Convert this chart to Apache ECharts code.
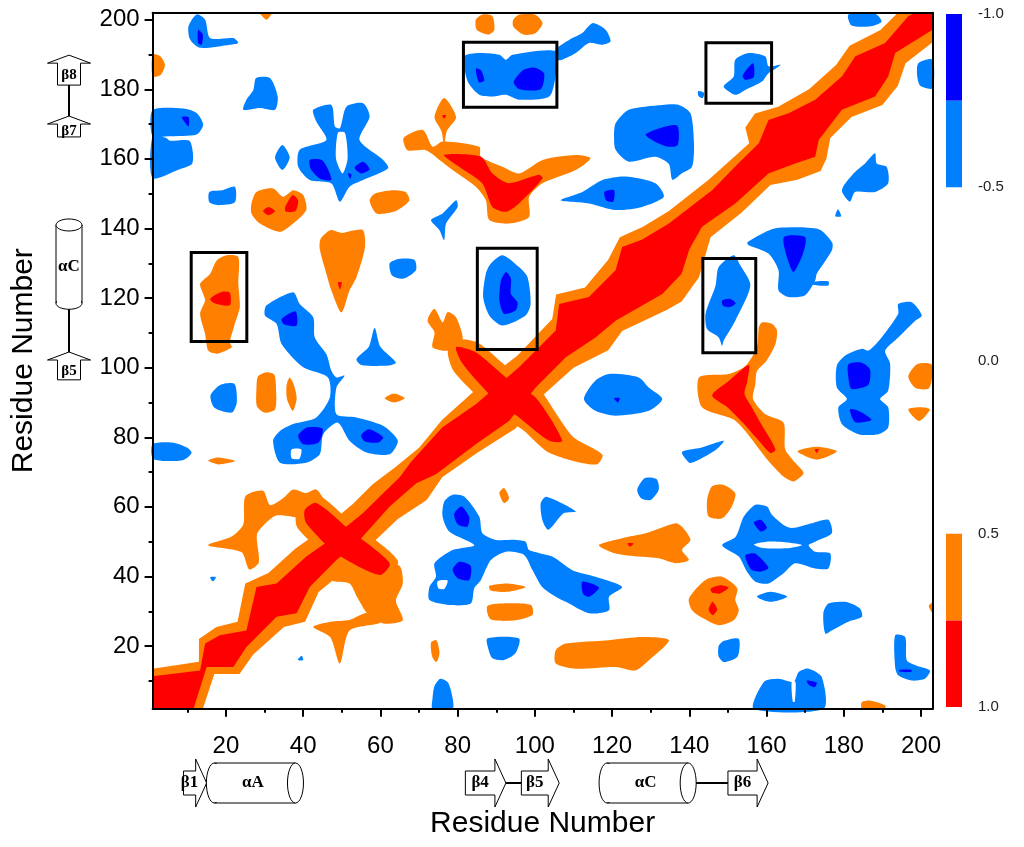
<!DOCTYPE html>
<html>
<head>
<meta charset="utf-8">
<script src="https://cdn.jsdelivr.net/npm/echarts/dist/echarts.min.js"></script>
<style>
  html, body { margin: 0; padding: 0; background: #fff; }
  #main { width: 1024px; height: 847px; }
</style>
</head>
<body>
<div id="main"></div>
<script>
// residue ticks
const majorTicks = [20, 40, 60, 80, 100, 120, 140, 160, 180, 200];
const minorTicks = [10, 30, 50, 70, 90, 110, 130, 150, 170, 190];

// contour regions, [residue i, residue j] vertices
const orangeRegions = [
  [[0,13.5],[13,15.5],[13,22],[17.5,25.5],[23,27],[25,38],[31,41],[38,48],[45,53.5],[53,61],[58,66.5],[64,71.5],[70,77],[76,85],[83,92],[88,97],[95.5,103.5],[104.5,114],[105.5,121],[113,123],[119,131],[122,137.5],[128,140.5],[134.7,145],[145,154],[152,161],[155.5,164.5],[154.5,169],[157,173],[163,175],[171,180],[178,187],[181.5,192.5],[189.5,197],[194,203],[204,203],[204,193.5],[196,187.5],[194,181],[190,175.5],[182,172],[176.5,166],[175.5,160],[174,156.5],[168,154],[161,152.5],[153.5,144.5],[145.5,137.5],[142.5,126],[138,119],[134,116.5],[122.6,110.5],[119,105],[110,100],[102,92],[95,82.5],[85,75.5],[76,68.5],[72,62],[64.5,56.5],[56,47.5],[50,41],[44,35.5],[40.5,27],[35,25.5],[27,17.5],[23.5,12],[17,12],[14,0],[0,0]],
  [[38.5,59.5],[43.5,63.5],[52,56],[64.5,44.5],[60.5,38],[48.5,44],[38.5,54]],
  [[15.4,49],[21.5,51.5],[24.5,55],[25,63],[29.6,64.6],[31.4,60.5],[34.8,62.5],[37.4,65],[40.8,64],[43.4,65],[46,61],[48,57],[44,55.5],[38,57],[33,57.5],[30,55],[28,52],[28.5,44],[26,42],[24,47]],
  [[47,44],[56.4,42],[60.7,44],[65,43],[65.8,38],[64,33],[65.8,27.4],[60.7,26.5],[56.5,29.5],[54,34],[52,38],[47,39]],
  [[42.6,25.5],[47,27],[52,27.5],[56.5,29.5],[60,26.8],[52,24.5],[49.5,15],[47,22.6]],
  [[77.5,105],[81,108],[85.5,107],[93,100],[101,94],[106,86],[110,80],[117.5,75],[116,72.2],[109,73.5],[103,76],[97,82],[88,89],[79,99]],
  [[73.5,105.9],[74,110.2],[72.2,113.5],[74,116.9],[76.1,113],[77.4,116],[79.6,114.5],[81.3,107.8],[77.8,104.9]],
  [[66,166],[71,168.3],[73.5,163.5],[76.1,165],[85.6,163.5],[86,160.6],[91.6,157.7],[95.9,155.8],[102,159.7],[110.6,161.1],[114.4,160.2],[110.6,156.8],[102,153],[98.5,149.1],[98.5,143.3],[93.3,141.4],[88.2,142.4],[87.3,148.1],[84.7,152],[78.7,156.8],[75.3,159.7],[71.8,162.5],[67,162.5]],
  [[76.5,177.5],[79.6,172],[77.2,168],[76.5,164],[75.8,168],[74,172]],
  [[28.8,203],[31.8,203],[30.5,200]],
  [[0,190],[3,189.5],[4.2,187],[3,184],[0,183.7]],
  [[84.7,200],[86.5,201.5],[89,201],[89.5,197],[88,195.7],[85,197]],
  [[94.4,200],[96,201.5],[100,201.5],[102,199],[100,196],[97,195.7],[94.4,198]],
  [[26.6,147.2],[27.9,150.5],[32.2,151.5],[34.8,149.1],[37.4,151],[40,149.6],[40.8,145.3],[37.4,141.4],[34,139],[28.8,141.4],[26.6,144.3]],
  [[57.2,148],[58.5,150],[63,151],[66.5,150.5],[67.5,148],[64,145],[59,144.3]],
  [[44.5,137],[47,139.5],[50,138.7],[52,139.2],[55.5,139.5],[56,134.5],[53.8,126],[52,122.2],[49.9,115.9],[47.3,122.2],[46,127],[44.3,134]],
  [[20.2,132.3],[23.2,131.8],[23.2,124.1],[23.6,117.4],[22.3,112.6],[21,107.3],[21.5,105.9],[17.6,104],[15.4,104.9],[14.6,109.7],[13.3,115.5],[14.6,119.3],[14.1,121.2],[13.3,124.1],[15.9,127],[17.6,130.8]],
  [[28.3,97.5],[30.5,98.7],[32.5,98],[33,93],[32.7,88],[30,87.1],[28,89],[27.9,94]],
  [[36.5,97.2],[37.6,95],[38.3,91],[37.3,87.6],[35.8,91],[35.7,95]],
  [[61.1,91.2],[63.5,92.6],[66.3,91.2],[63.5,90]],
  [[15.4,73.3],[18,74.2],[22.3,73.2],[18,72.2]],
  [[90.8,64],[92,65.4],[93.3,62.5],[92,61.1]],
  [[116.6,49],[122.6,51],[128.7,52.4],[136.4,55.3],[138.1,54.3],[140.3,50.5],[138.1,47.6],[139.9,44.7],[136.4,43.8],[132.1,45.2],[126.9,45.7],[120.9,46.6]],
  [[88.2,37.3],[93,38],[97.6,37],[93,35.6],[88.5,36]],
  [[87.7,31.5],[93,32.3],[99,31.8],[99.4,29],[95,27.4],[88.5,27.7]],
  [[105.4,18.8],[108,20.7],[119.2,21.7],[127.8,22.6],[134.7,21.7],[129.5,15.9],[126.1,13],[120.9,14],[110.6,13.5],[105.4,15]],
  [[73.1,21],[74.5,21.7],[75.3,18],[74.5,15.4],[73.4,17]],
  [[158.8,113],[161.4,112.6],[162.7,110.7],[162.3,106.8],[160,102],[157.5,99],[157.1,95.3],[156.5,91],[159.7,86.6],[164.4,84.2],[164.8,76.6],[167,73.2],[169.6,69.7],[167,67.3],[164.4,68.7],[160.5,73.2],[152,84.7],[143.3,88.6],[142.5,97.2],[150.2,98.2],[154.5,100.5],[157.5,105.9],[158,111.6]],
  [[168,76],[173,77.3],[178.2,76],[173,73.6]],
  [[196.7,97.5],[199,101],[202.7,101],[204,98],[202,94],[198.5,94.2]],
  [[196.7,88],[200,88.6],[202.3,88],[199.5,84.7]],
  [[145.9,65.9],[148.9,66.3],[151.9,63.9],[151,60.1],[148.5,56.7],[145,57.2],[144.6,62]],
  [[139.9,33.7],[144.2,39],[148.5,39.9],[152.4,36.6],[151.9,33.2],[152.8,30.3],[151.5,27.4],[147.6,26],[143.7,27.9],[140.7,30.3]],
  [[184.7,3.9],[187,4.3],[190.7,3],[190.7,0],[184.7,0]],
  [[202,31.5],[204,32.5],[204,29.5]]
];

const redRegions = [
  [[0,11.3],[13.3,13],[14.6,20.7],[18.4,23.1],[25.3,24.5],[27.9,37],[33.1,38],[40.8,45.7],[46.9,50.5],[55.5,58.2],[60.7,63.9],[65,68.5],[68,73],[76,82.8],[84.7,89.5],[95.9,100.1],[105.4,110.7],[106.3,118.3],[114,120.3],[120.9,128],[122.6,134.7],[127.8,136.8],[134.7,141.4],[145.9,151],[151.9,157.8],[158,164.5],[160.5,171.2],[165.7,173.1],[172.6,177],[179.5,183.7],[183,189.5],[190.7,193.3],[196.7,201],[198.4,203],[204,203],[204,197.1],[193.3,190.4],[191.5,183.7],[188.1,177.9],[179.5,174.1],[173.5,165.4],[172.6,160.6],[167.4,158.7],[160.5,155.8],[151.9,147.2],[143.3,140.5],[140,134],[138,127],[133,121.2],[120.9,113.5],[115.7,108.7],[108,103],[100.2,94.3],[93.3,84.7],[84.7,78],[74.4,69.4],[69.3,66.8],[62.4,60.1],[53.8,49.5],[48.6,44.7],[41.7,37],[38.3,29.4],[33.1,28.4],[25.3,19.7],[21.9,14],[15,14],[11.6,0],[0,0]],
  [[40.4,59.1],[43.4,61.1],[52,53.4],[62.4,43.8],[59.8,40.4],[48.6,46.6],[40.8,55.3]],
  [[79.6,105.9],[84.7,104.4],[92.5,97.2],[100.2,91.4],[107.1,79],[103.7,79],[95.9,85.7],[89,91.5],[81.3,101.1]],
  [[76.5,161.1],[86,160.6],[89,155.8],[93.3,153],[101,155.4],[102,154.4],[95.9,147.2],[92.5,144.8],[89,146.2],[86.4,152.9],[80.4,157.7]],
  [[76,172.5],[77,172.5],[76.5,171.5]],
  [[29.6,145],[31,146.2],[32.7,145],[31,143.8]],
  [[35.3,146],[37.3,149.6],[38.7,148],[38,145],[35.5,144.8]],
  [[49,124.5],[50,124.5],[49.5,122.5]],
  [[15.9,119.8],[19,121.8],[21,121.5],[21,117.9],[17,118.5]],
  [[124,49.5],[125.5,49.5],[124.7,48.6]],
  [[172.5,76.5],[173.5,76.5],[173,75.5]],
  [[145.9,92],[150,96],[155.4,100.8],[155,96],[154.3,92.4],[156.5,88],[158.5,84],[162.3,76.5],[161,75.5],[158,79],[154,84],[150,88.5]],
  [[145.5,36.5],[148,37.5],[150.2,36.8],[148,35.1],[146,35.3]],
  [[145,30.5],[146,32.7],[147.2,30.5],[146,28.9]]
];

const lightBlueRegions = [
  [[12.4,201.5],[14.6,200],[15.9,194.7],[21.9,194.7],[23.2,193.3],[21,192.8],[13.3,191.9],[10.7,194.3],[10.3,198.1]],
  [[27.8,183.2],[31.4,183.2],[33.4,177.9],[32.7,174.1],[28.8,174.6],[24.5,174.1],[25.3,177],[27.1,179.8]],
  [[0,174],[9,174.5],[12.4,173.2],[14.1,169.8],[12.4,167],[5,166.5],[0,166.5]],
  [[0,166.5],[4.5,166],[5.5,165.2],[10.5,165.2],[11.4,162],[11.2,158.5],[8,157],[0,154.5]],
  [[34.6,164],[36.5,160.4],[34.6,156.8],[32.7,160.4]],
  [[42.6,174.1],[47.3,175.5],[48.2,169.3],[49.5,168.8],[51.2,175],[55.5,176],[57.2,172.2],[54.6,165.4],[60.7,159.7],[62,157.3],[55.5,153.9],[52,152],[49.5,147.7],[47.3,152.9],[41.7,153.9],[38.7,157.7],[39.1,162.6],[46,165.4],[43.4,170.7]],
  [[15.7,150.5],[19,151],[22.3,152],[22.3,147.5],[18,146.7],[15.7,147.5]],
  [[81.7,189.4],[85.6,190.4],[90.8,189.9],[92.5,188.5],[94.2,189.9],[105.4,190.9],[105.4,184.2],[103.7,177.9],[95.9,177],[92.5,178.4],[89,177.9],[85.6,178.4],[82.6,182.2]],
  [[105.4,188.5],[105.4,191.4],[109.7,194.7],[112.3,196.2],[114.9,199],[118.3,197.1],[119.6,193.8],[117.5,192.8],[114,193.3],[110.6,190.4],[107.1,188.5]],
  [[120.9,170.2],[124.3,174.1],[133,175.5],[137.3,175.5],[140.3,173.1],[141.2,164.5],[140.7,157.7],[138,155.8],[135.6,154],[134.7,158.5],[131.2,160.6],[124.3,159.2],[120.9,162.6],[120.5,166.4]],
  [[106.7,148.1],[112.3,150.5],[117.5,153.9],[123.5,154.9],[131.2,153],[133.4,149.1],[127.8,146.2],[120.9,145.3],[114,147.2]],
  [[79.6,148.1],[80,146.2],[77,141.4],[76.5,136.6],[75.3,139.5],[73.1,142.4],[76.1,144.3]],
  [[181.2,201.5],[188,201.8],[189.8,199.5],[187,198.1],[182,198.3]],
  [[151.9,188.5],[155.4,190.4],[159.7,189.4],[160.5,186.6],[163.6,187],[160.5,184.6],[158.8,182.2],[154.5,179.8],[151.9,178.4],[148.9,180.8],[151.5,183.7]],
  [[142.3,179.5],[143.8,179],[143.5,177.5],[142.4,178]],
  [[199.3,187.5],[204,188.5],[204,180.3],[199.8,181],[199,184]],
  [[188.1,161.6],[188.5,158.7],[191.1,157.7],[191.5,153],[188.1,150.5],[182.9,150.5],[181.6,147.7],[179.5,151],[182.5,155.8],[185.5,158.7]],
  [[177.8,143.5],[179.3,143.5],[178.5,145.5]],
  [[155,136],[159.7,139],[163.1,140.2],[173.5,139.8],[177,136],[176.9,133.7],[173,127],[172.6,125.1],[170,120.8],[165.7,120.3],[163.1,122.2],[163.1,128],[160.5,132.8],[155.4,135.2]],
  [[172,124.6],[176,124.8],[176,123.6],[172,123.8]],
  [[62.4,130],[65,131.3],[68.8,131],[69.2,128],[66,125.6],[63,126.5]],
  [[30.5,117.9],[37.4,121.7],[39.1,118.3],[42.6,114.5],[43,108.7],[46,103.9],[47.3,99.1],[48.6,97.2],[50.7,97.7],[48.6,94.3],[48.6,86.6],[53.8,85.7],[60.7,83.3],[64.5,79],[62.4,75.1],[56.4,75.6],[52,79],[49,84.2],[45.2,80.9],[44.3,75.1],[40.8,72.7],[34,72.7],[32.2,79],[34,81.8],[37.4,83.8],[43.4,85.7],[46.9,91.4],[46.4,97.2],[40,100.1],[34.4,106.8],[33.1,112.6],[30.1,115]],
  [[58.5,111.5],[60,106],[64,101.5],[62,100.6],[55,100.8],[53.8,102.5],[57,106]],
  [[16,92],[18.5,95],[22.2,95.3],[22.8,90],[21.5,87.1],[17,88.5]],
  [[0,78],[6,78.5],[10,77],[11.1,75.5],[9,73.5],[4,73.2],[0,74]],
  [[91.6,132.3],[95.9,128.9],[98.1,126],[98.9,118.3],[97.6,115],[91.6,112.1],[88.2,115],[86.6,120.3],[87.3,127],[88.6,129.9]],
  [[112.7,91],[115.7,96.3],[119.2,98.2],[126.9,97.2],[129.5,94.3],[133,91],[129.5,87.6],[120.9,86.2],[115.7,87.6]],
  [[151.5,132.3],[153.2,129.4],[155.8,123.6],[151.9,113.5],[148.9,107.8],[148.5,106.3],[147.6,108.7],[144.6,111.1],[144.2,115.5],[146.8,123.6],[147.6,128.9]],
  [[194.1,118.3],[197.6,118.8],[200.2,115],[198.5,113.5],[194.1,108.7],[190.7,104.9],[192,101.1],[191.5,93.4],[189.4,91],[191.5,88.6],[191.5,82.8],[189,80.9],[183.8,80.9],[179.5,83.8],[178.6,88.6],[180.8,91],[178.2,94.3],[178.2,100.6],[180.4,103.5],[184.7,105.4],[186.4,104.9],[189.8,108.7],[194.1,115.5]],
  [[138.1,75.8],[143,77],[148.9,79],[147,76.5],[141.5,73],[140,72.7]],
  [[15.9,39.8],[17.4,39.8],[16.6,38.6]],
  [[38.6,16],[40,16],[39.6,17.2]],
  [[78.7,63.5],[81.7,63],[85.6,57.2],[86.4,52.4],[89.9,50.5],[95.1,50.5],[97.6,50],[98.5,47.6],[104.5,45.7],[109.7,41.8],[115.7,39.9],[122.6,37],[119.2,34.2],[119.2,30.3],[114,29.4],[108,32.7],[105.4,34.2],[101.9,37],[99.4,41.8],[97.2,46.2],[92.5,47.1],[88.6,44.7],[86,38.9],[84.3,36.6],[83.4,32.2],[77.8,31.8],[72.7,33.2],[72.7,37],[74.4,39.9],[74,43.8],[78.7,47.6],[84.3,49],[77.8,52.9],[76.1,57.2],[76.5,61.5]],
  [[101.5,61],[103,62.9],[110.6,58.7],[107.5,58.2],[103.5,53.4],[102,56]],
  [[126.5,65],[128.5,68.3],[131.5,68],[132.1,65],[130,62],[127.5,62.5]],
  [[87.7,22.2],[95.9,22.2],[95,18],[92,16],[89,16.5],[88,19]],
  [[75.5,10.6],[77.5,9.5],[78.7,5],[78.7,0],[73.5,0],[73.5,5],[74,8.5]],
  [[148.5,49],[152,51.4],[154.1,57.2],[157.1,60.6],[160.1,60.1],[161.4,57.7],[164.4,54.8],[166.6,53.9],[171.7,55.3],[176,56.3],[176.9,52.4],[172.6,50],[170.9,49],[172.6,47.1],[176.5,46.6],[176,42.3],[172.6,42.3],[167.4,43.8],[164.4,40.9],[160.5,38],[157.1,38.5],[154.9,41.4],[152.8,45.7]],
  [[157.5,34.2],[161,35.6],[165.3,34.2],[161,32.7]],
  [[176,32.2],[180.4,32.7],[184.2,30.8],[184.7,28.4],[181.2,27],[176.9,24.5],[175.2,23.6],[174.7,29.4]],
  [[147.6,20],[149,21.5],[152.8,22.1],[152.5,17],[149,15.4],[147.6,17]],
  [[193.3,23.1],[195.9,22.6],[196.3,15.9],[198.5,14.5],[202.3,13],[201,10.6],[197.6,10.1],[194.1,11.6],[193.3,14]],
  [[156.7,0],[159.3,9.7],[163.1,10.6],[167,9.7],[168.3,12.5],[170.9,13.5],[174.3,11.1],[174.8,0]]
];

// white gaps inside the blue patches
const holeRegions = [
  [[49,167.5],[50.8,167.5],[51.5,160],[50.2,155.8],[48.5,160]],
  [[37,76.5],[39.5,76.5],[39,73.8],[37,74]],
  [[74.8,38.6],[77.4,38.8],[76.5,36.4],[75,36.6]],
  [[156.7,49.2],[160,50],[166,49.7],[169.2,49],[165,48.1],[159,48.2]],
  [[166.5,9.7],[167.5,9.7],[167.3,4],[166.8,4]]
];

const darkBlueRegions = [
  [[12.8,197.1],[14,195.7],[13.7,192.8],[12.8,193.3]],
  [[8.5,172],[10.3,172],[10.3,169.3]],
  [[41.7,159.7],[45,159.5],[47.3,154],[44.5,154.2],[42,157]],
  [[53.3,157.5],[55.5,159.2],[57.2,157],[55,155.8]],
  [[51.6,155.8],[52.5,155.5],[52.2,154.3]],
  [[84.7,186],[86,185.5],[86.9,182.5],[85.5,182]],
  [[94.5,182],[97,185.5],[100,186.2],[102.4,184.5],[101.5,180],[96,180]],
  [[128.7,167],[133,169],[136.9,169.5],[137,164],[134.5,163.5],[131,165]],
  [[118,150.5],[120.5,151],[120.3,147.7],[118.5,148]],
  [[153.8,184],[156.5,187.5],[156.7,183.5],[154.5,182.7]],
  [[164.5,137.5],[170,137.5],[169.5,133],[167,127.5],[165.5,131]],
  [[34.4,114],[38,116.2],[38.3,112.1],[35,112.5]],
  [[38.7,80.5],[41,82.8],[45,82.5],[44,78.5],[40,78]],
  [[55,80.5],[57,82.3],[60.7,80],[59.5,78.5],[56,78.8]],
  [[92.5,127.5],[93.8,125.6],[93.8,121.2],[95.5,118.8],[95,116.4],[92,115.5],[90.8,119.3],[91.2,125]],
  [[120.5,91.2],[122,91.2],[121.5,90]],
  [[148.5,119.3],[150.5,119.8],[152,118.5],[150.5,117.4],[148.7,117.8]],
  [[181.2,101],[184.5,101.5],[186.8,99.5],[186.3,95],[182,93.9],[181.2,97]],
  [[181.6,88],[184,87.5],[187.2,85],[183,84.3]],
  [[79.1,58],[81,60.1],[83,57],[82.5,54.3],[80,55]],
  [[78.7,42],[80.5,44.2],[83.4,43],[83,39],[80,39.5]],
  [[112.3,38.5],[116.6,36.8],[114,34.1],[112.5,35]],
  [[156.7,55.5],[158.5,56.3],[160.1,54],[158.5,52.9]],
  [[154.5,46],[157,46.6],[160.5,42.5],[158.5,41.4],[156,42]],
  [[194.5,13.2],[197.5,13.2],[197.5,12.6],[194.5,12.6]],
  [[170.4,10.1],[173,9.5],[172.5,8.2],[171,8.8]]
];

// highlighted boxes [x1, y1, x2, y2]
const boxes = [
  [81.5, 174.8, 105.7, 193.5],
  [144.3, 176, 161.3, 193.4],
  [11, 107.5, 25.4, 133.1],
  [85.1, 105.2, 100.6, 134.3],
  [143.5, 104.3, 157.2, 131.4]
];

// colour bar blocks [from, to]
const cbBlocks = [[-1, -0.75], [-0.75, -0.5], [0.5, 0.75], [0.75, 1]];

// secondary structure, [label, first residue, last residue]
const xStrands = [['β1', 9, 15], ['β4', 82, 92.5], ['β5', 96.5, 106.3], ['β6', 150, 160.4]];
const xHelices = [['αA', 17, 38], ['αC', 118.7, 139.7]];
const xLinks = [[15, 17], [92.5, 96.5], [139.7, 150]];
const yStrands = [['β5', 96.5, 104.5], ['β7', 166.3, 172.3], ['β8', 181.2, 189.8]];
const yHelices = [['αC', 118.5, 141]];
const yLinks = [[104.5, 118.5], [172.3, 181.2]];

const DARK = '#0000ff', LIGHT = '#0080ff', ORANGE = '#ff8000', RED = '#ff0000';
const FONT = '"Liberation Sans", Arial, sans-serif';
const SERIF = '"Liberation Serif", "Times New Roman", serif';

const clampX = v => Math.min(203, Math.max(1, v));
const clampY = v => Math.min(202, Math.max(2, v));

function regionSeries(regions, color, z) {
    return {
        type: 'custom',
        xAxisIndex: 0,
        yAxisIndex: 0,
        z: z,
        silent: true,
        data: regions.map(p => p[0]),
        renderItem: function (params, api) {
            const pts = regions[params.dataIndex].map(p => api.coord([clampX(p[0]), clampY(p[1])]));
            // the long diagonal bands keep sharp corners, the blobs get rounded
            const smooth = pts.length > 40 ? 0 : 0.25;
            return { type: 'polygon', shape: { points: pts, smooth: smooth }, style: { fill: color } };
        }
    };
}

const lineStyle = { color: '#000', width: 2 };

const option = {
    animation: false,
    backgroundColor: '#fff',
    grid: [
        { left: 152.6, right: 91.4, top: 12.7, bottom: 138.3 },
        { left: 946, width: 16, top: 14, bottom: 140 }
    ],
    xAxis: [
        {
            gridIndex: 0, type: 'value', min: 1, max: 203, position: 'bottom', z: 10,
            axisLine: { lineStyle: lineStyle },
            axisTick: { customValues: majorTicks, length: 8, lineStyle: lineStyle },
            axisLabel: { customValues: majorTicks, margin: 26, fontFamily: FONT, fontSize: 24, color: '#000' },
            splitLine: { show: false },
            name: 'Residue Number', nameLocation: 'middle', nameGap: 100,
            nameTextStyle: { fontFamily: FONT, fontSize: 30, color: '#000' }
        },
        {
            gridIndex: 0, type: 'value', min: 1, max: 203, position: 'bottom', z: 10,
            axisLine: { show: false },
            axisTick: { customValues: minorTicks, length: 4, lineStyle: lineStyle },
            axisLabel: { show: false },
            splitLine: { show: false }
        },
        {
            gridIndex: 0, type: 'value', min: 1, max: 203, position: 'top', z: 10,
            axisLine: { lineStyle: lineStyle },
            axisTick: { show: false }, axisLabel: { show: false }, splitLine: { show: false }
        },
        { gridIndex: 1, type: 'value', min: 0, max: 1, show: false }
    ],
    yAxis: [
        {
            gridIndex: 0, type: 'value', min: 2, max: 202, position: 'left', z: 10,
            axisLine: { lineStyle: lineStyle },
            axisTick: { customValues: majorTicks, length: 8, lineStyle: lineStyle },
            axisLabel: { customValues: majorTicks, margin: 13, fontFamily: FONT, fontSize: 24, color: '#000' },
            splitLine: { show: false },
            name: 'Residue Number', nameLocation: 'middle', nameGap: 114,
            nameTextStyle: { fontFamily: FONT, fontSize: 30, color: '#000' }
        },
        {
            gridIndex: 0, type: 'value', min: 2, max: 202, position: 'left', z: 10,
            axisLine: { show: false },
            axisTick: { customValues: minorTicks, length: 4, lineStyle: lineStyle },
            axisLabel: { show: false },
            splitLine: { show: false }
        },
        {
            gridIndex: 0, type: 'value', min: 2, max: 202, position: 'right', z: 10,
            axisLine: { lineStyle: lineStyle },
            axisTick: { show: false }, axisLabel: { show: false }, splitLine: { show: false }
        },
        {
            gridIndex: 1, type: 'value', min: -1, max: 1, interval: 0.5, inverse: true, position: 'right',
            axisLine: { show: false }, axisTick: { show: false }, splitLine: { show: false },
            axisLabel: {
                margin: 16, fontFamily: FONT, fontSize: 15, color: '#222',
                formatter: v => v.toFixed(1)
            }
        }
    ],
    series: [
        regionSeries(orangeRegions, ORANGE, 2),
        regionSeries(redRegions, RED, 3),
        regionSeries(lightBlueRegions, LIGHT, 4),
        regionSeries(holeRegions, '#fff', 5),
        regionSeries(darkBlueRegions, DARK, 6),
        {
            type: 'custom', xAxisIndex: 0, yAxisIndex: 0, z: 8, silent: true,
            data: boxes.map(b => [b[0], b[1]]),
            renderItem: function (params, api) {
                const b = boxes[params.dataIndex];
                const p0 = api.coord([b[0], b[3]]);
                const p1 = api.coord([b[2], b[1]]);
                return {
                    type: 'rect',
                    shape: { x: p0[0], y: p0[1], width: p1[0] - p0[0], height: p1[1] - p0[1] },
                    style: { fill: 'rgba(0,0,0,0)', stroke: '#000', lineWidth: 3 }
                };
            }
        },
        {
            type: 'custom', xAxisIndex: 3, yAxisIndex: 3, silent: true,
            data: cbBlocks.map(b => [0, b[0]]),
            renderItem: function (params, api) {
                const b = cbBlocks[params.dataIndex];
                const p0 = api.coord([0, b[0]]);
                const p1 = api.coord([1, b[1]]);
                return {
                    type: 'rect',
                    shape: { x: p0[0], y: p0[1], width: p1[0] - p0[0], height: p1[1] - p0[1] },
                    style: { fill: [DARK, LIGHT, ORANGE, RED][params.dataIndex] }
                };
            }
        }
    ]
};

const chart = echarts.init(document.getElementById('main'));
chart.setOption(option);

// secondary-structure cartoons along both axes
const px = r => chart.convertToPixel({ xAxisIndex: 0 }, r);
const py = r => chart.convertToPixel({ yAxisIndex: 0 }, r);
const ROW_Y = 783, COL_X = 69;
const outline = { fill: '#fff', stroke: '#000', lineWidth: 1 };
const elements = [];

function label(text, x, y, size) {
    elements.push({
        type: 'text', x: x, y: y,
        style: { text: text, font: 'bold ' + size + 'px ' + SERIF, fill: '#000',
                 align: 'center', verticalAlign: 'middle', textAlign: 'center', textVerticalAlign: 'middle' }
    });
}
function line(x1, y1, x2, y2, w) {
    elements.push({ type: 'line', shape: { x1: x1, y1: y1, x2: x2, y2: y2 }, style: { stroke: '#000', lineWidth: w || 2 } });
}

xLinks.forEach(l => line(px(l[0]), ROW_Y, px(l[1]), ROW_Y));
yLinks.forEach(l => line(COL_X, py(l[0]), COL_X, py(l[1])));

xStrands.forEach(s => {
    const x0 = px(s[1]), x1 = px(s[2]), xh = x1 - 11, y = ROW_Y;
    elements.push({ type: 'polygon', shape: { points: [[x0, y - 12], [xh, y - 12], [xh, y - 24], [x1, y], [xh, y + 24], [xh, y + 12], [x0, y + 12]] }, style: outline });
    label(s[0], (x0 + xh) / 2, y, 17);
});
yStrands.forEach(s => {
    const y0 = py(s[1]), y1 = py(s[2]), yh = y1 + 8, x = COL_X;
    elements.push({ type: 'polygon', shape: { points: [[x - 11.5, y0], [x - 11.5, yh], [x - 21.5, yh], [x, y1], [x + 21.5, yh], [x + 11.5, yh], [x + 11.5, y0]] }, style: outline });
    label(s[0], x, (y0 + yh) / 2 + 1, 15);
});
xHelices.forEach(h => {
    const x0 = px(h[1]), x1 = px(h[2]), y = ROW_Y, r = 20;
    elements.push({ type: 'ellipse', shape: { cx: x0, cy: y, rx: 8, ry: r }, style: outline });
    elements.push({ type: 'rect', shape: { x: x0, y: y - r + 1, width: x1 - x0, height: 2 * r - 2 }, style: { fill: '#fff' } });
    line(x0, y - r, x1, y - r, 1);
    line(x0, y + r, x1, y + r, 1);
    elements.push({ type: 'ellipse', shape: { cx: x1, cy: y, rx: 8, ry: r }, style: outline });
    label(h[0], (x0 + x1) / 2 - 2, y, 17);
});
yHelices.forEach(h => {
    const y0 = py(h[1]), y1 = py(h[2]), x = COL_X, r = 13;
    elements.push({ type: 'ellipse', shape: { cx: x, cy: y0, rx: r, ry: 6 }, style: outline });
    elements.push({ type: 'rect', shape: { x: x - r + 1, y: y1, width: 2 * r - 2, height: y0 - y1 }, style: { fill: '#fff' } });
    line(x - r, y1, x - r, y0, 1);
    line(x + r, y1, x + r, y0, 1);
    elements.push({ type: 'ellipse', shape: { cx: x, cy: y1, rx: r, ry: 6 }, style: outline });
    label(h[0], x, (y0 + y1) / 2 + 2, 17);
});

chart.setOption({ graphic: { elements: elements.map((e, i) => Object.assign({ z: 100 + i }, e)) } });
window.addEventListener('resize', () => chart.resize());
</script>
</body>
</html>
